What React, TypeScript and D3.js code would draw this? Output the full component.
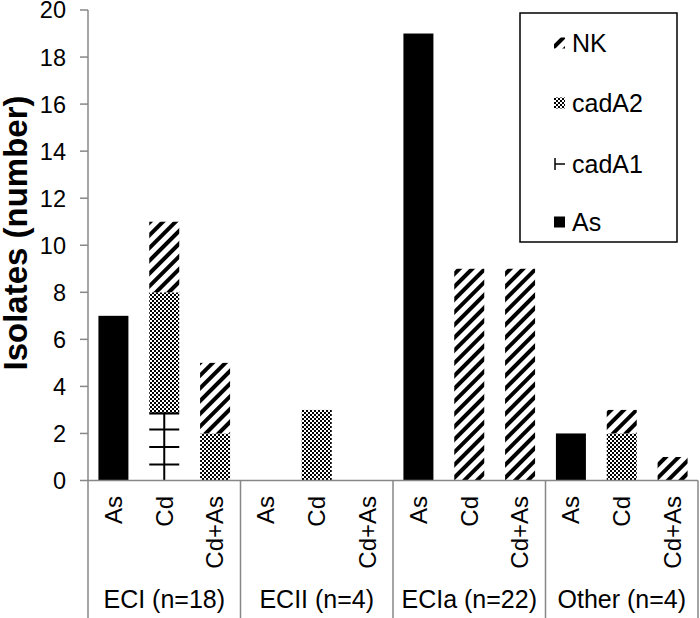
import React from "react";
import * as d3 from "d3";

const groups = ["ECI (n=18)", "ECII (n=4)", "ECIa (n=22)", "Other (n=4)"];
const categories = ["As", "Cd", "Cd+As"];
const seriesKeys = ["As", "cadA1", "cadA2", "NK"];
const asValues = [7, 0, 0, 0, 0, 0, 19, 0, 0, 2, 0, 0];
const cadA1Values = [0, 2.9, 0, 0, 0, 0, 0, 0, 0, 0, 0, 0];
const cadA2Values = [0, 5.1, 2, 0, 3, 0, 0, 0, 0, 0, 2, 0];
const nkValues = [0, 3, 3, 0, 0, 0, 0, 9, 9, 0, 1, 1];
const yTicks = [0, 2, 4, 6, 8, 10, 12, 14, 16, 18, 20];
const legendOrder = ["NK", "cadA2", "cadA1", "As"];

const W = 700;
const H = 618;
const left = 88;
const right = 698;
const yTop = 10;
const yBottom = 480.5;
const gray = "#878787";
const font = "Arial, 'Liberation Sans', sans-serif";

export default function App() {
  const rows = groups.flatMap((g, gi) =>
    categories.map((c, ci) => {
      const i = gi * categories.length + ci;
      return {
        group: g,
        cat: c,
        As: asValues[i],
        cadA1: cadA1Values[i],
        cadA2: cadA2Values[i],
        NK: nkValues[i],
      };
    })
  );
  const stacked = d3.stack<any>().keys(seriesKeys)(rows);

  const xg = d3.scaleBand<string>().domain(groups).range([left, right]).padding(0);
  const xc = d3
    .scaleBand<string>()
    .domain(categories)
    .range([0, xg.bandwidth()])
    .paddingInner(0.41)
    .paddingOuter(0.205);
  const y = d3.scaleLinear().domain([0, 20]).range([yBottom, yTop]);

  const fills: Record<string, string> = {
    As: "#000",
    cadA2: "url(#checker)",
    NK: "url(#stripes)",
  };

  const bars: React.ReactNode[] = [];
  stacked.forEach((layer) => {
    const key = layer.key;
    layer.forEach((d, i) => {
      const v = d[1] - d[0];
      if (v <= 0) return;
      const r = rows[i];
      const x0 = (xg(r.group) as number) + (xc(r.cat) as number);
      const bw = xc.bandwidth();
      const yT = y(d[1]);
      const yB = y(d[0]);
      if (key === "cadA1") {
        const cx = x0 + bw / 2;
        const cross = d3.range(yB - 16, yT + 6, -17.5);
        bars.push(
          <g key={key + i}>
            <line x1={cx} x2={cx} y1={yB} y2={yT} stroke="#000" strokeWidth={2} />
            <line x1={x0} x2={x0 + bw} y1={yT + 1} y2={yT + 1} stroke="#000" strokeWidth={2.5} />
            {cross.map((cy, k) => (
              <line key={k} x1={x0} x2={x0 + bw} y1={cy} y2={cy} stroke="#000" strokeWidth={2} />
            ))}
          </g>
        );
      } else {
        bars.push(
          <rect key={key + i} x={x0} y={yT} width={bw} height={yB - yT} fill={fills[key]} />
        );
      }
    });
  });

  const legendY: Record<string, number> = { NK: 43, cadA2: 103, cadA1: 164, As: 222 };

  return (
    <svg
      width={W}
      height={H}
      style={{ position: "absolute", left: 0, top: 0, display: "block", background: "#fff" }}
      fontFamily={font}
    >
      <defs>
        <pattern id="checker" patternUnits="userSpaceOnUse" width={4} height={4}>
          <rect width={4} height={4} fill="#fff" />
          <rect x={0} y={0} width={2} height={2} fill="#000" />
          <rect x={2} y={2} width={2} height={2} fill="#000" />
        </pattern>
        <pattern
          id="stripes"
          patternUnits="userSpaceOnUse"
          width={9}
          height={9}
          patternTransform="rotate(45)"
        >
          <rect width={9} height={9} fill="#fff" />
          <rect x={0} y={0} width={4} height={9} fill="#000" />
        </pattern>
      </defs>
      <rect width={W} height={H} fill="#fff" />

      {bars}

      {/* y axis */}
      <line x1={left} x2={left} y1={yTop} y2={H} stroke={gray} strokeWidth={1.5} />
      {yTicks.map((t) => (
        <g key={t}>
          <line x1={left - 8} x2={left} y1={y(t)} y2={y(t)} stroke={gray} strokeWidth={1.5} />
          <text
            x={66}
            y={y(t)}
            dy="0.36em"
            textAnchor="end"
            fontSize={23.5}
            fill="#000"
          >
            {t}
          </text>
        </g>
      ))}
      <text
        transform={`translate(27, 233) rotate(-90)`}
        textAnchor="middle"
        fontSize={33}
        fontWeight="bold"
        fill="#000"
      >
        Isolates (number)
      </text>

      {/* x axis */}
      <line x1={left} x2={right} y1={yBottom} y2={yBottom} stroke={gray} strokeWidth={1.5} />
      {groups.map((g, gi) => {
        const gx = xg(g) as number;
        return (
          <g key={g}>
            {gi > 0 && (
              <line x1={gx} x2={gx} y1={yBottom} y2={H} stroke={gray} strokeWidth={1.5} />
            )}
            {categories.map((c) => {
              const cx = gx + (xc(c) as number) + xc.bandwidth() / 2;
              return (
                <text
                  key={c}
                  transform={`translate(${cx}, 496) rotate(-90)`}
                  textAnchor="end"
                  dy="0.35em"
                  fontSize={24}
                  fill="#000"
                >
                  {c}
                </text>
              );
            })}
            <text x={gx + xg.bandwidth() / 2} y={608} textAnchor="middle" fontSize={25} fill="#000">
              {g}
            </text>
          </g>
        );
      })}
      <line x1={right} x2={right} y1={yBottom} y2={H} stroke={gray} strokeWidth={1.5} />

      {/* legend */}
      <rect x={520} y={13} width={157} height={229} fill="#fff" stroke="#000" strokeWidth={1.5} />
      {legendOrder.map((k) => {
        const ly = legendY[k];
        let sym: React.ReactNode;
        if (k === "cadA1") {
          sym = (
            <g>
              <line x1={555} x2={555} y1={ly - 6} y2={ly + 6} stroke="#000" strokeWidth={1.5} />
              <line x1={555} x2={565} y1={ly} y2={ly} stroke="#000" strokeWidth={1.5} />
            </g>
          );
        } else {
          sym = <rect x={554} y={ly - 5.5} width={11} height={11} fill={fills[k]} />;
        }
        return (
          <g key={k}>
            {sym}
            <text x={572} y={ly} dy="0.36em" fontSize={25} fill="#000">
              {k}
            </text>
          </g>
        );
      })}
    </svg>
  );
}
